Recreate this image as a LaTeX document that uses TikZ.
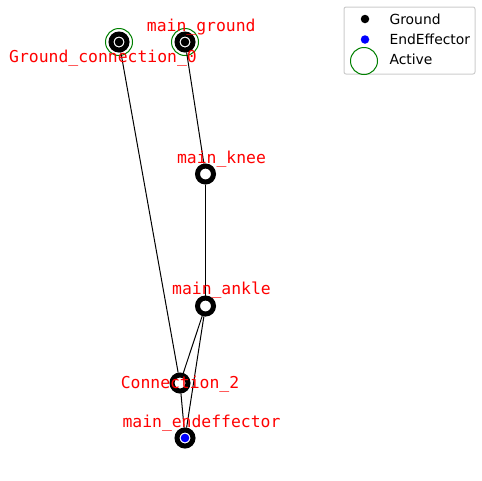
\documentclass[tikz,border=0pt]{standalone}
\usepackage{fontspec}
\setmainfont{DejaVu Sans}
\newfontfamily\monofont{DejaVu Sans Mono}
\definecolor{activegreen}{RGB}{0,128,0}
\definecolor{legendedge}{RGB}{204,204,204}
\tikzstyle{joint}=[draw, circle, line width=5pt, fill=white, minimum size=16pt, inner sep=0pt]
\tikzstyle{groundjoint}=[joint, path picture={\fill[black] (path picture bounding box.center) circle (4.3pt);}]
\tikzstyle{endjoint}=[joint, path picture={\fill[blue] (path picture bounding box.center) circle (4.3pt);}]
\tikzstyle{active}=[draw=activegreen, circle, line width=1pt, minimum size=27pt, inner sep=0pt]
\tikzstyle{jointlabel}=[text=red, font=\monofont\fontsize{16.4}{18}\selectfont, anchor=base, inner sep=0pt]
\tikzstyle{legendtext}=[font=\fontsize{13.9}{16}\selectfont, anchor=base west, inner sep=0pt]
\tikzstyle{legenddot}=[circle, inner sep=0pt, minimum size=8.5pt]

\begin{document}
\begin{tikzpicture}[x=1pt, y=-1pt, line width=1pt]
  \useasboundingbox (0,0) rectangle (482,480);

  \node[active] (A1) at (119,42) {};
  \node[active] (A2) at (185,42) {};
  \node[groundjoint] (G0) at (119,42) {};
  \node[groundjoint] (MG) at (185,42) {};
  \node[joint] (MK) at (205.5,174) {};
  \node[joint] (MA) at (205.5,306) {};
  \node[joint] (C2) at (180,383) {};
  \node[endjoint] (ME) at (185,438) {};

  \path (G0) edge (C2);
  \path (MG) edge (MK);
  \path (MK) edge (MA);
  \path (MA) edge (C2);
  \path (MA) edge (ME);
  \path (C2) edge (ME);

  \node[jointlabel] (L1) at (103,62.8) {Ground\_connection\_0};
  \node[jointlabel] (L2) at (201.3,31.2) {main\_ground};
  \node[jointlabel] (L3) at (221.5,163.2) {main\_knee};
  \node[jointlabel] (L4) at (221.5,294.5) {main\_ankle};
  \node[jointlabel] (L5) at (180,388.8) {Connection\_2};
  \node[jointlabel] (L6) at (201.5,427.2) {main\_endeffector};

  \draw[legendedge, rounded corners=2pt, fill=white, line width=1pt] (344,7) rectangle (475,74);
  \node[legenddot, fill=black] (K1) at (365,19) {};
  \node[legendtext] (T1) at (389,24) {Ground};
  \node[legenddot, fill=blue] (K2) at (365,39.5) {};
  \node[legendtext] (T2) at (389,44) {EndEffector};
  \node[active] (K3) at (364,61) {};
  \node[legendtext] (T3) at (389,64.3) {Active};
\end{tikzpicture}
\end{document}
